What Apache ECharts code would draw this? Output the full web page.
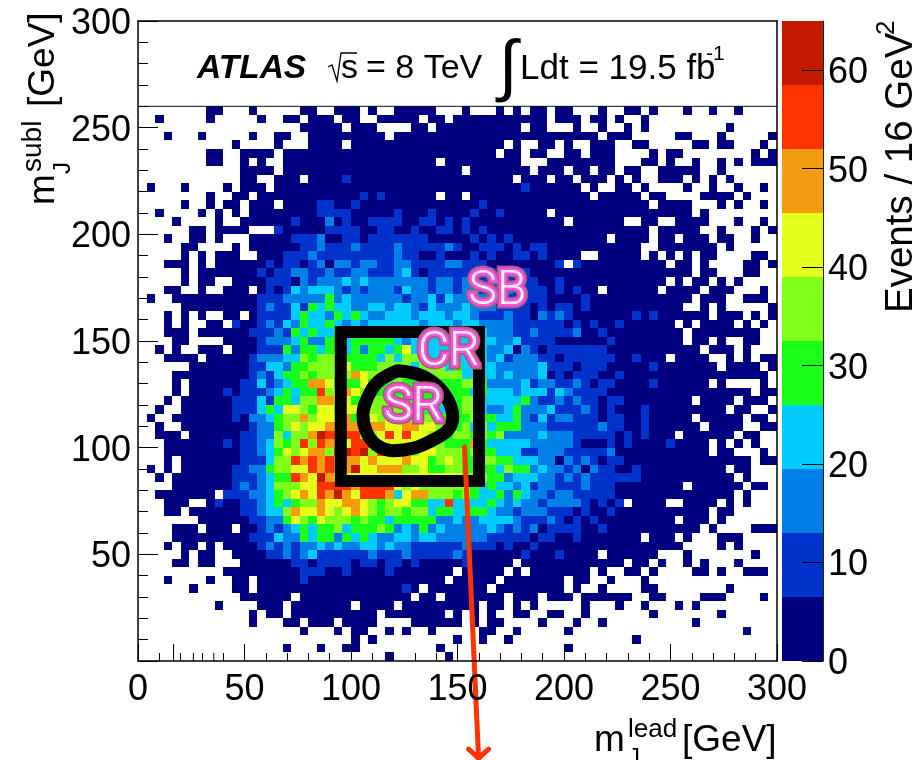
<!DOCTYPE html>
<html>
<head>
<meta charset="utf-8">
<style>html,body{margin:0;padding:0;background:#fff}#c{width:921px;height:760px}</style>
<script src="https://cdn.jsdelivr.net/npm/echarts@6/dist/echarts.min.js"></script>
</head>
<body>
<div id="c"></div>
<script>
// One character per 4x4 GeV bin. '.' = empty bin, digit = colour band index.
// Rows run from m_subl = 256-260 GeV (first) down to 0-4 GeV (last).
const leftCols = [ // lead mass 0-152 GeV
"........00...0.....00..000.0..00000...",
"..0.....0.....0..00.000.00..00000.00.0",
"...................00000.000....00.000",
"...0...0.....0..00..000000000.00000000",
"...........0....0...0000.0000000000000",
"........00..0000.000000000000000000000",
"........00..0.0..000000000000000000.00",
"............0000.000000000000000000000",
"............00..000.000010000000000000",
".0...0....0.000.0000000000000000000000",
"........0..00.000000000000101000000.00",
".....0..0.00.000.000011001000000000000",
"..0....0.0.0.0000000011110000010001000",
"....0....0..00000010002010011110011010",
"......00.0000...1000001111001100100110",
"...0..00.0...0000011120011011111110000",
".....00....0.0000001121112111121111121",
".....0.0.000..000111211111111121100100",
"...000.0.00000010110120221221122111122",
".....0.0000000101122112112211123101111",
".....0.00..000011102122232322222221221",
"...00..0..000.010132333212122213221221",
".0..0000000000111222224232222221223132",
".....000000000121131434332233233213222",
"...0.0.0..00.0111134332434322333233323",
"...0.0..00.100121324334323233333323332",
"...000.0000001112143433444444444444444",
"....00....0000122234224434444432333333",
"..0.0..000.000111424434434244346333333",
"...0000.000001222335455544443535553333",
"......00000001133244555564445555355534",
"....0000000001213445455557655555555555",
"....0.00000011312344776444644454444444",
"....0.00001011123434485676544544444444",
"...0.000000111314435577664555555544444",
"..0..000000111343665466566455555544344",
".0..0000000102234557566674665666555544",
"..0..000000001224565667777577667766554",
"..000.00000011225355798888556868665545",
"...00000001011235458587768886666655544",
"...00000000011234656775898958555566555",
"...0.000000011135587878777676667664565",
".0.0.000000112245566878779667775564455",
"..0.0000000111234487697666666666666666",
"....0000000121235556688887888865655555",
"..0000000.1112234567687976888736775554",
"...000..010011234345576677654566443383",
"...00.00000011233576676567654554553443",
".......0000001122465465554544344444223",
"....000.000.00121234344534445423242322",
"....0000000001113224344243432233233222",
"...0.00.0.0000121212232322332322111111",
".....0.00..000011212311111121112111112",
"....00.00...00000011011110110110100000",
"..........000000000111001000010000000.",
"...0....0..00.0000010000000000000000.0",
"......0....00.0000000000000000010.0000",
"............000000.0000000000000.00.00",
".........0....000.0000000.0000.0000000",
".............0.00.0000000000.0000000.0",
".............0...00.000.0000....000000",
"...................0...0.00..0.0..0...",
".........................0.0.........0",
".................0...0..00.........0..",
".............................0......0."
];
const rightCols = [ // lead mass 152-300 GeV
"0...0.0.00.00...0..00.0...0..0..0....",
"0000000000.000.00.0..0...............",
"0000000.00...0..0..0.0.........0.....",
"0000000000000000.000.....00...0.....0",
"00000.0..00.0..000..00.....00.00...0.",
"0000.00.00..00.000....0.00........0.0",
"0000000...00000000...00.0..0..0.0.000",
".0000000.000.00.00.00..00000..0......",
"000000.000.00.000.0.0..000.0.0.0.....",
"00000001000000.0..00.0....0..0..0..0.",
".00000000000000.00000.00....0000.0...",
"0010000000000000000000.0000...0.0..0.",
"0100100000.0000000000000000.0........",
"100000000000.000000..00..0000...0..0.",
"1010000000000000000000.00000..0...0.0",
"01010100000000000.0000.00.000.00..0..",
"001110101100000000000..0000000.0.....",
"01010011010000..00000.0.0.0.00....00.",
"111000000001.10000000000.00.0....00.0",
"111111110000000000000000000.00...00..",
"221111111001000000000000.0.00.0.0....",
"2211221111010100.000000.0000.000...0.",
"222221111100001000000000000.000..000.",
"32221111010110100000000000..0.0.....0",
"32111211021210000000101000000.000.0.0",
"3322221111110101001000000.0.0000.0.0.",
"33322211211112001000000000.00000000..",
"33332231111000000100000000.00.0..00..",
"3332230210111111100000000000.000.0...",
"333231222110111111001000.0000..0.0.00",
"333322222311101110000010000000.0000.0",
"333323222301011100100000000000000000.",
"55422223122112101100001000000.0....0.",
"4343332333132111100000000000000000.00",
"553333342112121101100000000.0000.000.",
"5532234222311121010001000000000.00..0",
"454433421312211101100100000.00000.00.",
"5353444222111111211001000000.0000..00",
"5454522223222111110101000.000000.00..",
"47433333222221000101000010000.0.0.0..",
"45443331122211111200000000000.00...0.",
"4455443332202121011000000000000000.00",
"4444354423221202110010000000000.00...",
"55544233322121211111100000000000.0...",
"54343323122111211100000000.000000.00.",
"54334243221221111100000000000000.0...",
"3334323221222210101.0000..0000.0.0...",
"34432212221110100100000000000.00.....",
"2233332111210101000000000.000.0......",
"2223212120111100100000000000.0....000",
"222111110110010000000.000.0...000....",
"21110100100000000000000000....0.0....",
"1000000100010000.000000...0.......0..",
"100000.000000000000.00.0..0.0...0....",
"00000.0.0000000.0..00.0....00.0..000.",
"0000.0000000.00..0...0...............",
"000.00000000.0..0....00........0.....",
"00000.000.000.000000..00....000....0.",
"00.00.0.0.....0...0..0...0.0.........",
".0.0..00..00..0.......0.......0......",
".0.00....0...0..0..........0.........",
"..00..0.....0....................0...",
"..0..0..............0................",
"............0........................",
"....................................."
];
const binGeV = 4;
const topEdgeGeV = 260;
const bandWidth = 6.5;
const bandColors = ["#000080","#0033cc","#0080e6","#00ccff","#1aff1a","#80ff1a","#e6ff1a","#f59b0f","#ff3300","#c21a00"];
const massTicks = [0,50,100,150,200,250,300];
const colorbarTicks = [0,10,20,30,40,50,60];
const extraLeadTicks = [[16.7,17],[26,8],[35.6,8]];
const controlBox = [95.2,84.4,160.1,154.2];
const signalRing = [[122.0,136.1],[132.2,134.1],[140.0,129.4],[145.5,122.4],[147.8,114.5],[145.5,108.3],[138.4,103.6],[129.1,99.7],[119.7,98.6],[111.9,101.3],[107.2,107.5],[105.6,115.3],[108.0,123.9],[112.7,130.9],[122.0,136.1]];
const regionLabels = [["SB",168.8,173.0],["CR",145.9,144.4],["SR",129.3,118.6]];
const arrowPath = [[153.3,100.3],[159.9,-45.5]];

const cells = [];
leftCols.forEach((s,r)=>{
  const codeR = rightCols[r] || "";
  const y = topEdgeGeV - (r+1)*binGeV;
  for (let c=0;c<38;c++){ const ch=s[c]; if (ch && ch!=='.') cells.push([c*binGeV,y,(+ch+0.5)*bandWidth]); }
  for (let c=0;c<37;c++){ const ch=codeR[c]; if (ch && ch!=='.') cells.push([(c+38)*binGeV,y,(+ch+0.5)*bandWidth]); }
});
const bandRows = bandColors.map((col,i)=>[i*bandWidth,(i+1)*bandWidth,i]);

const sans = '"Liberation Sans", Arial, sans-serif';
const chart = echarts.init(document.getElementById('c'),null,{renderer:'canvas'});

function txt(text,x,y,size,extra){
  return Object.assign({type:'text',x:x,y:y,z:50,silent:true,style:Object.assign({text:text,font:size+'px '+sans,fill:'#000',textAlign:'left',textVerticalAlign:'middle'},(extra&&extra.style)||{})},extra&&extra.rotation?{rotation:extra.rotation}:{});
}
const up = Math.PI/2;
const graphics = [
  txt('ATLAS',197,69,34,{style:{font:'italic bold 33.5px '+sans}}),
  {type:'polyline',z:50,silent:true,shape:{points:[[328,67],[332,65],[337,81],[341,53],[357,53]]},style:{stroke:'#000',lineWidth:1.3,fill:null}},
  txt('s',341,69,34),
  txt('= 8 TeV',366,69,34),
  txt('\u222B',499,69,68),
  txt('Ldt = 19.5 fb',520,69,35),
  txt('-1',706,54,21),
  // vertical axis title
  txt('m',44,205,37,{rotation:up}),
  txt('subl',33,172,28,{rotation:up}),
  txt('J',63,174,24,{rotation:up}),
  txt('[GeV]',44,107,37,{rotation:up}),
  // horizontal axis title
  txt('m',594,741,37),
  txt('lead',628,730,26),
  txt('J',628,758,24),
  txt('[GeV]',682,741,37),
  // colour bar title
  txt('Events / 16 GeV',901,313,38.5,{rotation:up}),
  txt('2',887,35,26,{rotation:up})
];

function frameAxis(extra){
  return Object.assign({type:'value',min:0,max:300,z:10,axisLine:{show:true,onZero:false,lineStyle:{color:'#000',width:1.5}},axisTick:{show:false},axisLabel:{show:false},splitLine:{show:false},minorTick:{show:false},minorSplitLine:{show:false}},extra);
}
const sideLabel = {show:true,fontSize:36,color:'#000',fontFamily:sans,verticalAlign:'top',lineHeight:36,padding:[-15,0,0,0]};
chart.setOption({
  animation:false,
  backgroundColor:'#fff',
  grid:[
    {left:138,top:21,width:639,height:640},
    {left:782,top:21,width:41,height:640}
  ],
  xAxis:[
    {type:'value',gridIndex:0,position:'bottom',min:0,max:300,interval:50,z:10,
     axisLine:{show:true,onZero:false,lineStyle:{color:'#000',width:1.5}},
     axisTick:{show:true,inside:true,length:17,lineStyle:{color:'#000',width:1}},
     minorTick:{show:true,splitNumber:5,length:8,lineStyle:{color:'#000',width:1}},
     splitLine:{show:false},
     axisLabel:{show:true,margin:11,fontSize:36,color:'#000',fontFamily:sans,customValues:massTicks}},
    frameAxis({gridIndex:0,position:'top'}),
    {type:'value',gridIndex:1,min:0,max:1,show:false}
  ],
  yAxis:[
    {type:'value',gridIndex:0,position:'left',min:0,max:300,interval:50,z:10,
     axisLine:{show:true,onZero:false,lineStyle:{color:'#000',width:1.5}},
     axisTick:{show:true,inside:true,length:20,lineStyle:{color:'#000',width:1}},
     minorTick:{show:true,splitNumber:5,length:10,lineStyle:{color:'#000',width:1}},
     splitLine:{show:false},
     axisLabel:Object.assign({},sideLabel,{margin:7,formatter:v=>v===0?'':String(v)})},
    frameAxis({gridIndex:0,position:'right'}),
    {type:'value',gridIndex:1,position:'right',min:0,max:65,z:10,
     axisLine:{show:true,onZero:false,lineStyle:{color:'#222',width:1}},
     axisTick:{show:true,inside:true,length:21,customValues:colorbarTicks,lineStyle:{color:'#000',width:1}},
     minorTick:{show:false},splitLine:{show:false},
     axisLabel:Object.assign({},sideLabel,{margin:5,customValues:colorbarTicks})}
  ],
  graphic:graphics,
  series:[
    {type:'custom',name:'events',xAxisIndex:0,yAxisIndex:0,z:2,silent:true,data:cells,
     encode:{x:0,y:1},
     renderItem:(p,api)=>{
       const a=api.coord([api.value(0),api.value(1)+binGeV]);
       const b=api.coord([api.value(0)+binGeV,api.value(1)]);
       const x=Math.round(a[0]),y=Math.round(a[1]);
       return {type:'rect',shape:{x:x,y:y,width:Math.round(b[0])-x,height:Math.round(b[1])-y},
               style:{fill:bandColors[Math.min(9,Math.floor(api.value(2)/bandWidth))]}};
     }},
    {type:'custom',name:'palette',xAxisIndex:2,yAxisIndex:2,z:2,silent:true,data:bandRows,
     encode:{y:[0,1]},
     renderItem:(p,api)=>{
       const a=api.coord([0,api.value(1)]);
       const b=api.coord([1,api.value(0)]);
       return {type:'rect',shape:{x:a[0],y:a[1],width:b[0]-a[0],height:b[1]-a[1]},style:{fill:bandColors[api.value(2)]}};
     }},
    {type:'custom',name:'header edge',xAxisIndex:0,yAxisIndex:0,z:9,silent:true,data:[[0,topEdgeGeV,300]],
     encode:{x:[0,2],y:1},
     renderItem:(p,api)=>{
       const a=api.coord([api.value(0),api.value(1)]),b=api.coord([api.value(2),api.value(1)]);
       return {type:'line',shape:{x1:a[0],y1:a[1],x2:b[0],y2:b[1]},style:{stroke:'#111',lineWidth:1}};
     }},
    {type:'custom',name:'extra ticks',xAxisIndex:0,yAxisIndex:0,z:9,silent:true,data:extraLeadTicks.map(t=>[t[0],0,t[1]]),
     encode:{x:0,y:1},
     renderItem:(p,api)=>{
       const a=api.coord([api.value(0),0]);
       return {type:'line',shape:{x1:a[0],y1:a[1],x2:a[0],y2:a[1]-api.value(2)},style:{stroke:'#000',lineWidth:1}};
     }},
    {type:'custom',name:'CR box',xAxisIndex:0,yAxisIndex:0,z:5,silent:true,data:[controlBox],
     encode:{x:[0,2],y:[1,3]},
     renderItem:(p,api)=>{
       const a=api.coord([api.value(0),api.value(3)]),b=api.coord([api.value(2),api.value(1)]);
       return {type:'rect',shape:{x:a[0],y:a[1],width:b[0]-a[0],height:b[1]-a[1]},style:{fill:null,stroke:'#000',lineWidth:12,lineJoin:'miter'}};
     }},
    {type:'line',name:'SR ring',xAxisIndex:0,yAxisIndex:0,z:5,silent:true,data:signalRing,smooth:0.4,showSymbol:false,
     lineStyle:{color:'#000',width:13,cap:'round'}},
    {type:'custom',name:'region labels',xAxisIndex:0,yAxisIndex:0,z:7,silent:true,data:regionLabels.map(l=>[l[1],l[2]]),
     encode:{x:0,y:1},
     renderItem:(p,api)=>{
       const q=api.coord([api.value(0),api.value(1)]);
       const t=regionLabels[p.dataIndex][0];
       const base={text:t,x:q[0],y:q[1],textAlign:'center',textVerticalAlign:'middle',font:'300 48px Roboto, "Open Sans", sans-serif'};
       return {type:'group',children:[
         {type:'text',style:Object.assign({},base,{fill:'#a5607f',stroke:'#a5607f',lineWidth:9,shadowBlur:3,shadowColor:'rgba(60,40,40,.6)'})},
         {type:'text',style:Object.assign({},base,{fill:'#ff4fe0',stroke:'#ff4fe0',lineWidth:5})},
         {type:'text',style:Object.assign({},base,{fill:'#fff2fd'})}
       ]};
     }},
    {type:'custom',name:'arrow',xAxisIndex:0,yAxisIndex:0,z:8,silent:true,data:[[arrowPath[0][0],arrowPath[0][1],arrowPath[1][0],arrowPath[1][1]]],
     encode:{x:[0,2],y:[1,3]},
     renderItem:(p,api)=>{
       const a=api.coord([api.value(0),api.value(1)]),b=api.coord([api.value(2),api.value(3)]);
       const st={stroke:'#ff3300',lineWidth:5,lineCap:'round'};
       return {type:'group',children:[
         {type:'line',shape:{x1:a[0],y1:a[1],x2:b[0],y2:b[1]},style:st},
         {type:'line',shape:{x1:b[0],y1:b[1],x2:b[0]-10,y2:b[1]-9},style:st},
         {type:'line',shape:{x1:b[0],y1:b[1],x2:b[0]+10,y2:b[1]-9},style:st}
       ]};
     }}
  ]
});
</script>
</body>
</html>
